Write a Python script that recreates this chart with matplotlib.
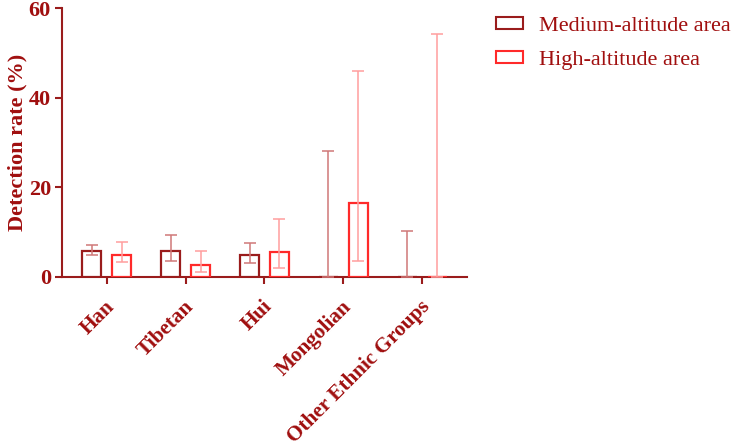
import matplotlib
matplotlib.use("Agg")
import matplotlib.pyplot as plt
import numpy as np
from matplotlib.patches import Patch
from matplotlib.transforms import ScaledTranslation

categories = ["Han", "Tibetan", "Hui", "Mongolian", "Other Ethnic Groups"]
medium = [5.8, 5.8, 4.8, 0.0, 0.0]
medium_lo = [4.8, 3.6, 3.1, 0.0, 0.0]
medium_hi = [7.1, 9.3, 7.5, 28.2, 10.3]
high = [5.0, 2.7, 5.5, 16.6, 0.0]
high_lo = [3.3, 1.2, 2.1, 3.5, 0.0]
high_hi = [7.9, 5.7, 12.9, 45.9, 54.2]
yticks = [0, 20, 40, 60]

dark = "#A00F0F"
med_edge = "#9A1C1C"
high_edge = "#FF2A2A"
med_err = "#D07878"
high_err = "#FF9E9E"

plt.rcParams['font.family'] = ['Liberation Serif', 'DejaVu Serif']

fig = plt.figure(figsize=(7.36, 4.47), dpi=100)
ax = fig.add_axes([62/736, 1-277/447, (467-62)/736, (277-8)/447])

x = np.arange(len(categories))
off = 0.19
w = 0.24

m = np.array(medium); h = np.array(high)
ax.bar(x - off, m, w, facecolor='white', edgecolor=med_edge, linewidth=1.6, zorder=3)
ax.bar(x + off, h, w, facecolor='white', edgecolor=high_edge, linewidth=1.6, zorder=3)
ax.errorbar(x - off, m, yerr=[m - np.array(medium_lo), np.array(medium_hi) - m],
            fmt='none', ecolor=med_err, elinewidth=1.1, capsize=4, capthick=1.1, zorder=4)
ax.errorbar(x + off, h, yerr=[h - np.array(high_lo), np.array(high_hi) - h],
            fmt='none', ecolor=high_err, elinewidth=1.1, capsize=4, capthick=1.1, zorder=4)

ax.set_xlim(-0.57, 4.57)
ax.set_ylim(0, 60)
ax.set_yticks(yticks)
ax.set_xticks(x)

for s in ['top', 'right']:
    ax.spines[s].set_visible(False)
for s in ['left', 'bottom']:
    ax.spines[s].set_color(med_edge)
    ax.spines[s].set_linewidth(1.5)
ax.tick_params(axis='both', colors=med_edge, width=1.5, length=5, labelcolor=dark)
ax.tick_params(axis='y', pad=3)

ax.set_xticklabels(categories, rotation=45, ha='right', rotation_mode='anchor',
                   fontsize=15.3, fontweight='bold', color=dark)
shift = ScaledTranslation(-2/100, -8/100, fig.dpi_scale_trans)
for lab in ax.get_xticklabels():
    lab.set_transform(lab.get_transform() + shift)
for lab in ax.get_yticklabels():
    lab.set_fontsize(16); lab.set_fontweight('bold'); lab.set_color(dark)
ax.set_ylabel("Detection rate (%)", fontsize=16, fontweight='bold', color=dark, labelpad=1)

handles = [Patch(facecolor='white', edgecolor=med_edge, linewidth=1.5, label='Medium-altitude area'),
           Patch(facecolor='white', edgecolor=high_edge, linewidth=1.5, label='High-altitude area')]
leg = fig.legend(handles=handles, loc='upper left', bbox_to_anchor=(487/736, 1-8/447),
                 frameon=False, fontsize=16, handlelength=1.2, handleheight=0.45,
                 labelspacing=0.68, handletextpad=0.75, borderaxespad=0)
for t in leg.get_texts():
    t.set_color(dark)

fig.savefig("out.png", dpi=100)
